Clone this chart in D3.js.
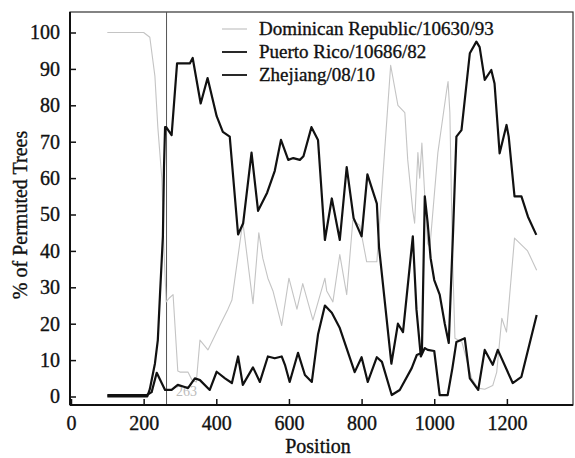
<!DOCTYPE html>
<html>
<head>
<meta charset="utf-8">
<script src="https://cdn.jsdelivr.net/npm/d3@7"></script>
<style>
  body { margin: 0; background: #fff; }
</style>
</head>
<body>
<div id="container"></div>
<script>
const w = 575,
  h = 458;
const serif = '"Liberation Serif", "Times New Roman", Times, serif';

// series
const seriesNames = ['Dominican Republic/10630/93', 'Puerto Rico/10686/82', 'Zhejiang/08/10'];

const drPos = [100, 200, 217, 231, 239, 250, 256, 262, 270, 281, 294, 300, 322, 333, 345, 355, 377, 410, 432, 443, 473, 501, 517, 528, 542, 556, 580, 600, 622, 638, 666, 699, 704, 721, 740, 759, 776, 795, 814, 842, 880, 900, 919, 927, 941, 946, 955, 960, 966, 974, 982, 988, 1010, 1034, 1038, 1043, 1050, 1057, 1076, 1103, 1120, 1139, 1161, 1172, 1186, 1199, 1221, 1257, 1282];
const drVal = [100, 100, 98.7, 88, 74, 60, 40, 26, 27, 28, 7, 6.7, 6.7, 4.5, 4, 15.5, 12.8, 19.6, 24, 26.5, 48, 25.5, 45, 38, 32.5, 29, 19.5, 32.5, 24, 31, 21, 32.5, 29, 26, 39, 28, 48.5, 47, 37, 37, 91, 80, 78, 65, 51, 47.6, 67, 60, 69.6, 55, 42, 41, 67, 84, 86.5, 78, 40, 16, 15, 5, 2.3, 2, 3, 6.7, 21.5, 17.7, 43.5, 40, 34.7];

const prPos = [100, 210, 217, 231, 239, 245, 250, 253, 256, 259, 262, 277, 292, 327, 335, 357, 376, 401, 418, 437, 460, 474, 497, 515, 540, 561, 578, 598, 612, 630, 640, 662, 680, 699, 718, 740, 759, 778, 800, 816, 842, 848, 882, 900, 914, 941, 951, 963, 974, 982, 1000, 1015, 1037, 1050, 1061, 1084, 1098, 1121, 1139, 1161, 1175, 1216, 1240, 1282];
const prVal = [0, 0, 2, 9, 15.5, 28, 38, 44, 63, 74, 74, 71.8, 91.5, 91.5, 93, 80.5, 87.5, 77, 72.7, 71.4, 44.5, 47.6, 67, 51, 56, 62, 70.5, 65, 65.5, 65, 66, 74, 70.5, 43, 54.4, 43, 63, 49, 44, 61, 53, 41, 9, 20, 17.7, 44, 24, 11, 13.3, 12.8, 12.5, 0.4, 0.4, 7.8, 15, 16, 5, 1.8, 12.8, 8.7, 12.8, 3.7, 5.4, 22.4];

const zjPos = [100, 209, 222, 236, 259, 277, 294, 313, 322, 341, 355, 382, 401, 424, 443, 460, 473, 501, 520, 542, 561, 580, 589, 602, 625, 644, 663, 680, 699, 718, 740, 781, 800, 817, 842, 856, 883, 905, 938, 952, 966, 974, 982, 990, 1000, 1015, 1029, 1040, 1052, 1061, 1075, 1098, 1116, 1125, 1139, 1157, 1166, 1180, 1199, 1205, 1221, 1240, 1258, 1281];
const zjVal = [0.4, 0.4, 1.2, 6.5, 1.8, 1.8, 3.2, 2.6, 2.3, 5, 4.5, 1.8, 6.8, 5, 3.7, 11, 3.2, 8, 4, 11, 10.5, 11, 8.7, 4, 12, 5.9, 4, 17, 25, 23, 18.8, 6.7, 10.8, 4, 10.8, 9.5, 0.4, 1.8, 7.8, 11.4, 12, 55, 47.6, 38, 32, 28, 20, 14.7, 45.7, 71.4, 73.2, 94.3, 97.5, 96, 87, 89.7, 86, 66.8, 74.6, 71.4, 55, 55, 49.4, 44.4];

const xTicks = [0, 200, 400, 600, 800, 1000, 1200];
const yTicks = [0, 10, 20, 30, 40, 50, 60, 70, 80, 90, 100];
const breakpoint = 263;

const plotLeft = 70,
  plotRight = 573,
  plotTop = 12,
  plotBottom = 405;

const svg = d3.select('#container').append('svg').attr('width', w).attr('height', h);

const xScale = d3.scaleLinear().domain([0, 1382]).range([71, 573]);
const yScale = d3.scaleLinear().domain([0, 100]).range([396.5, 32.5]);

// heavier serif text, like the scanned figure
function styleText(sel, size) {
  sel
    .style('font-family', serif)
    .style('font-size', size + 'px')
    .style('fill', '#111')
    .style('stroke', '#111')
    .style('stroke-width', 0.35);
}

// frame
svg
  .append('rect')
  .attr('x', plotLeft)
  .attr('y', plotTop)
  .attr('width', plotRight - plotLeft)
  .attr('height', plotBottom - plotTop)
  .attr('fill', 'none')
  .attr('stroke', '#333')
  .attr('stroke-width', 1.2);

// breakpoint marker
svg
  .append('line')
  .attr('x1', xScale(breakpoint))
  .attr('x2', xScale(breakpoint))
  .attr('y1', plotTop)
  .attr('y2', plotBottom)
  .attr('stroke', '#555')
  .attr('stroke-width', 1);

svg
  .append('text')
  .text(breakpoint)
  .attr('x', xScale(breakpoint) + 20)
  .attr('y', 396)
  .attr('text-anchor', 'middle')
  .style('font-family', serif)
  .style('font-size', '14px')
  .style('fill', '#bbb');

const series = [
  { pos: drPos, val: drVal, color: '#c4c4c4', width: 1.1 },
  { pos: prPos, val: prVal, color: '#111', width: 2.2 },
  { pos: zjPos, val: zjVal, color: '#111', width: 2.2 }
];

const line = d3
  .line()
  .x((d) => xScale(d[0]))
  .y((d) => yScale(d[1]));

series.forEach((s) => {
  svg
    .append('path')
    .datum(d3.zip(s.pos, s.val))
    .attr('d', line)
    .attr('fill', 'none')
    .attr('stroke', s.color)
    .attr('stroke-width', s.width)
    .attr('stroke-linejoin', 'round');
});

// axes, ticks pointing inward
const yAxis = d3.axisLeft(yScale).tickValues(yTicks).tickSizeInner(-6).tickSizeOuter(0).tickPadding(10);
const gy = svg
  .append('g')
  .attr('transform', 'translate(' + plotLeft + ', 0)')
  .call(yAxis);
gy.select('.domain').remove();
gy.selectAll('line').attr('stroke', '#111').attr('stroke-width', 1.5);
styleText(gy.selectAll('text'), 20);

const xAxis = d3
  .axisBottom(xScale)
  .tickValues(xTicks)
  .tickFormat(d3.format('d'))
  .tickSizeInner(-6)
  .tickSizeOuter(0)
  .tickPadding(11);
const gx = svg
  .append('g')
  .attr('transform', 'translate(0, ' + plotBottom + ')')
  .call(xAxis);
gx.select('.domain').remove();
gx.selectAll('line').attr('stroke', '#111').attr('stroke-width', 1.5);
styleText(gx.selectAll('text'), 20);

svg
  .append('line')
  .attr('x1', plotLeft)
  .attr('x2', plotLeft)
  .attr('y1', plotTop)
  .attr('y2', plotBottom)
  .attr('stroke', '#111')
  .attr('stroke-width', 2);

svg
  .append('line')
  .attr('x1', plotLeft)
  .attr('x2', plotRight)
  .attr('y1', plotBottom)
  .attr('y2', plotBottom)
  .attr('stroke', '#111')
  .attr('stroke-width', 2);

// titles
const xTitle = svg
  .append('text')
  .text('Position')
  .attr('x', 318)
  .attr('y', 453)
  .attr('text-anchor', 'middle');
styleText(xTitle, 20);

const yTitle = svg
  .append('text')
  .text('% of Permuted Trees')
  .attr('text-anchor', 'middle')
  .attr('transform', 'rotate(-90)')
  .attr('x', -215)
  .attr('y', 27);
styleText(yTitle, 20);

// legend
const legend = svg
  .selectAll('.legend')
  .data(series)
  .enter()
  .append('g')
  .attr('class', 'legend')
  .attr('transform', (d, i) => 'translate(222, ' + (29 + i * 23) + ')');

legend
  .append('line')
  .attr('x1', 0)
  .attr('x2', 25)
  .attr('stroke', (d) => d.color)
  .attr('stroke-width', (d, i) => (i === 0 ? 1.2 : 1.8));

const legendText = legend
  .append('text')
  .text((d, i) => seriesNames[i])
  .attr('x', 37)
  .attr('dy', '0.33em');
styleText(legendText, 19);
</script>
</body>
</html>
